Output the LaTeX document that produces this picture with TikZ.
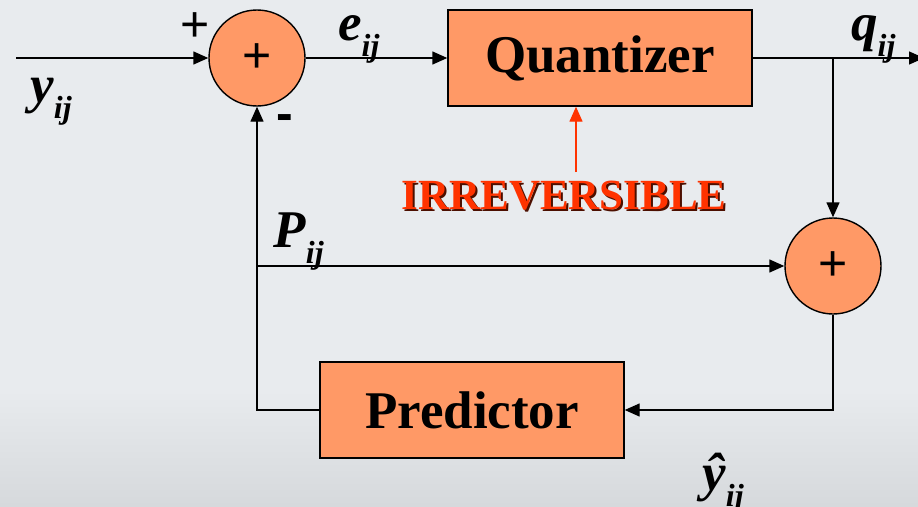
\documentclass[tikz,border=0pt]{standalone}
\usepackage{fontspec}
\setmainfont{Liberation Serif}
\newfontfamily\signfont{Liberation Sans}
\usetikzlibrary{arrows.meta}
\definecolor{blockfill}{HTML}{FF9966}
\definecolor{bgcol}{HTML}{E8EBEE}
\definecolor{bgdark}{HTML}{D6D9DC}
\definecolor{irrred}{HTML}{FF3300}
\newcommand{\sig}[2]{\textbf{\textit{#1}}\raisebox{-16pt}{\fontsize{32}{32}\selectfont\textbf{\textit{#2}}}}
\newcommand{\shadowed}[1]{\rlap{\hspace{2pt}\raisebox{-2pt}{\color{black!70!irrred}#1}}#1}

\begin{document}
\begin{tikzpicture}[x=1pt, y=-1pt,
  blk/.style={draw, line width=1.4pt, fill=blockfill, minimum width=304pt, minimum height=96pt, inner sep=0pt, font=\fontsize{53}{53}\selectfont\bfseries},
  sum/.style={draw, circle, line width=1.4pt, fill=blockfill, minimum size=96pt, inner sep=0pt, font=\signfont\fontsize{50}{50}\selectfont},
  arr/.style={-{Triangle[length=15pt,width=13pt]}, line width=1.4pt},
  redarr/.style={-{Triangle[length=15pt,width=13pt]}, line width=1.4pt, irrred},
  lbl/.style={anchor=base west, inner sep=0pt, font=\fontsize{53}{53}\selectfont}
]
\clip (0,0) rectangle (918,506);
\fill[bgcol] (0,0) rectangle (918,506);
\shade[top color=bgcol, bottom color=bgdark] (0,390) rectangle (918,506);

\node[sum] (s1) at (257,58) {\raisebox{-4pt}{+}};
\node[blk] (quant) at (600,58) {\raisebox{-3pt}{Quantizer}};
\node[sum] (s2) at (833,266) {\raisebox{-4pt}{+}};
\node[blk] (pred) at (472,410) {Predictor};

\coordinate (in) at (16,58);
\coordinate (out) at (924,58);
\coordinate (br) at (833,58);
\coordinate (tap) at (257,266);
\coordinate (irr) at (576,172);

\draw[arr] (in) -- (s1);
\draw[arr] (s1) -- (quant);
\draw[arr] (quant) -- (out);
\draw[arr] (br) -- (s2);
\draw[arr] (tap) -- (s2);
\draw[arr] (s2) |- (pred);
\draw[arr] (pred) -| (s1);
\draw[redarr] (irr) -- (irr |- quant.south);

\node[font=\signfont\fontsize{50}{50}\selectfont, inner sep=0pt] (plus) at (195,27) {+};
\node[font=\signfont\bfseries\fontsize{50}{50}\selectfont, inner sep=0pt] (minus) at (285,123) {-};
\node[lbl] (yin) at (30,102) {\sig{y}{ij}};
\node[lbl] (err) at (338,40) {\sig{e}{ij}};
\node[lbl] (qout) at (851,40) {\sig{q}{ij}};
\node[lbl] (pij) at (273,247) {\sig{P}{ij}};
\node[lbl] (yhat) at (702,490) {\sig{\^{y}}{ij}};
\node[font=\fontsize{43}{43}\selectfont\bfseries, text=irrred, inner sep=0pt] (irrtxt) at (564,197) {\shadowed{IRREVERSIBLE}};
\end{tikzpicture}
\end{document}
